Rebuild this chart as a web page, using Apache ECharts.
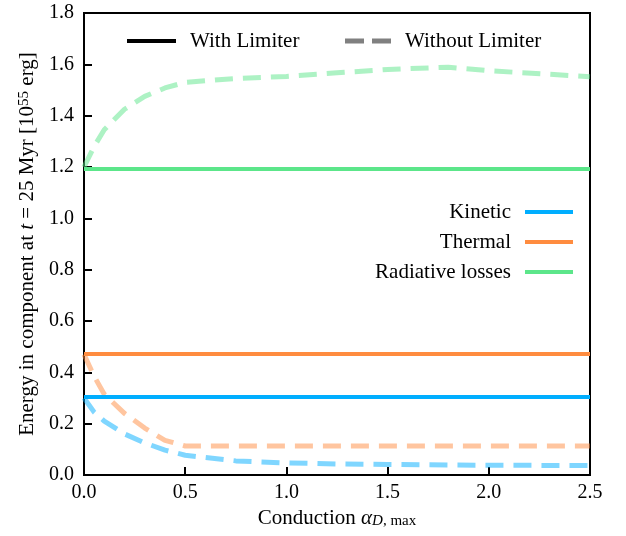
<!DOCTYPE html>
<html>
<head>
<meta charset="utf-8">
<script src="https://cdn.jsdelivr.net/npm/echarts@6/dist/echarts.min.js"></script>
<style>html,body{margin:0;padding:0;background:#fff}#c{width:626px;height:536px}</style>
</head>
<body>
<div id="c"></div>
<script>
// ---- data ----
var xLim = [0, 2.5];
var kineticLim = [0.304, 0.304];
var thermalLim = [0.471, 0.471];
var radLim = [1.192, 1.192];

var xNo = [0, 0.05, 0.1, 0.2, 0.3, 0.4, 0.5, 0.75, 1.0, 1.25, 1.5, 1.8, 2.0, 2.5];
var kineticNo = [0.30, 0.245, 0.21, 0.16, 0.125, 0.097, 0.077, 0.055, 0.047, 0.043, 0.041, 0.039, 0.038, 0.037];
var thermalNo = [0.47, 0.385, 0.315, 0.24, 0.183, 0.135, 0.113, 0.113, 0.113, 0.113, 0.113, 0.113, 0.113, 0.113];
var radNo = [1.2, 1.28, 1.345, 1.425, 1.475, 1.508, 1.53, 1.545, 1.553, 1.567, 1.58, 1.589, 1.575, 1.552];

var componentNames = ['Kinetic', 'Thermal', 'Radiative losses'];
var styleNames = ['With Limiter', 'Without Limiter'];

var C_BLUE = '#00aeff', C_ORANGE = '#ff8c3f', C_GREEN = '#5ce68a';
var FONT = 'Liberation Serif';

function pairs(xs, ys) { return xs.map(function (x, i) { return [x, ys[i]]; }); }

function solid(name, xs, ys, color) {
  return { name: name, type: 'line', data: pairs(xs, ys), showSymbol: false, symbol: 'none',
    lineStyle: { color: color, width: 4 }, z: 3, animation: false };
}
function dashed(name, xs, ys, color) {
  return { name: name, type: 'line', data: pairs(xs, ys), showSymbol: false, symbol: 'none',
    lineStyle: { color: color, width: 5, type: [18, 10], opacity: 0.5 }, z: 2, animation: false };
}

var chart = echarts.init(document.getElementById('c'), null, { renderer: 'canvas' });
var textStyle = { fontFamily: FONT, fontSize: 21, fill: '#000' };

chart.setOption({
  backgroundColor: '#fff',
  animation: false,
  grid: { left: 84, right: 36, top: 13, bottom: 61, show: true, borderColor: '#000', borderWidth: 2 },
  xAxis: {
    type: 'value', min: 0, max: 2.5, interval: 0.5,
    axisLine: { show: true, lineStyle: { color: '#000', width: 2 } },
    axisTick: { show: true, inside: true, length: 8, lineStyle: { color: '#000', width: 2 } },
    splitLine: { show: false },
    axisLabel: { color: '#000', fontFamily: FONT, fontSize: 20, margin: 8, formatter: function (v) { return v.toFixed(1); } },
    name: 'Conduction {i|α}{sub|D}{subr|, max}', nameLocation: 'middle', nameGap: 30,
    nameTextStyle: { color: '#000', fontFamily: FONT, fontSize: 21,
      rich: {
        i: { fontFamily: FONT, fontSize: 21, fontStyle: 'italic', color: '#000' },
        sub: { fontFamily: FONT, fontSize: 15, fontStyle: 'italic', color: '#000', verticalAlign: 'bottom', padding: [6, 0, 0, 0] },
        subr: { fontFamily: FONT, fontSize: 15, color: '#000', verticalAlign: 'bottom', padding: [6, 0, 0, 0] }
      } }
  },
  yAxis: {
    type: 'value', min: 0, max: 1.8, interval: 0.2,
    axisLine: { show: true, lineStyle: { color: '#000', width: 2 } },
    axisTick: { show: true, inside: true, length: 8, lineStyle: { color: '#000', width: 2 } },
    splitLine: { show: false },
    axisLabel: { color: '#000', fontFamily: FONT, fontSize: 20, margin: 10, formatter: function (v) { return v.toFixed(1); } },
    name: 'Energy in component at {i|t} = 25 Myr [10{sup|55} erg]', nameLocation: 'middle', nameGap: 46, nameRotate: 90,
    nameTextStyle: { color: '#000', fontFamily: FONT, fontSize: 21,
      rich: {
        i: { fontFamily: FONT, fontSize: 21, fontStyle: 'italic', color: '#000' },
        sup: { fontFamily: FONT, fontSize: 15, color: '#000', verticalAlign: 'top' }
      } }
  },
  series: [
    dashed('Kinetic (no limiter)', xNo, kineticNo, C_BLUE),
    dashed('Thermal (no limiter)', xNo, thermalNo, C_ORANGE),
    dashed('Radiative (no limiter)', xNo, radNo, C_GREEN),
    solid('Kinetic', xLim, kineticLim, C_BLUE),
    solid('Thermal', xLim, thermalLim, C_ORANGE),
    solid('Radiative losses', xLim, radLim, C_GREEN)
  ],
  graphic: [
    { type: 'line', shape: { x1: 127, y1: 41, x2: 176, y2: 41 }, style: { stroke: '#000', lineWidth: 4 } },
    { type: 'text', x: 190, y: 41, style: Object.assign({ text: styleNames[0], verticalAlign: 'middle', align: 'left' }, textStyle) },
    { type: 'line', shape: { x1: 345, y1: 41, x2: 392, y2: 41 }, style: { stroke: '#808080', lineWidth: 5, lineDash: [19, 8] } },
    { type: 'text', x: 405, y: 41, style: Object.assign({ text: styleNames[1], verticalAlign: 'middle', align: 'left' }, textStyle) },

    { type: 'text', x: 511, y: 212, style: Object.assign({ text: componentNames[0], verticalAlign: 'middle', align: 'right' }, textStyle) },
    { type: 'line', shape: { x1: 525, y1: 212, x2: 573, y2: 212 }, style: { stroke: C_BLUE, lineWidth: 4 } },
    { type: 'text', x: 511, y: 242, style: Object.assign({ text: componentNames[1], verticalAlign: 'middle', align: 'right' }, textStyle) },
    { type: 'line', shape: { x1: 525, y1: 242, x2: 573, y2: 242 }, style: { stroke: C_ORANGE, lineWidth: 4 } },
    { type: 'text', x: 511, y: 272, style: Object.assign({ text: componentNames[2], verticalAlign: 'middle', align: 'right' }, textStyle) },
    { type: 'line', shape: { x1: 525, y1: 272, x2: 573, y2: 272 }, style: { stroke: C_GREEN, lineWidth: 4 } }
  ]
});
</script>
</body>
</html>
